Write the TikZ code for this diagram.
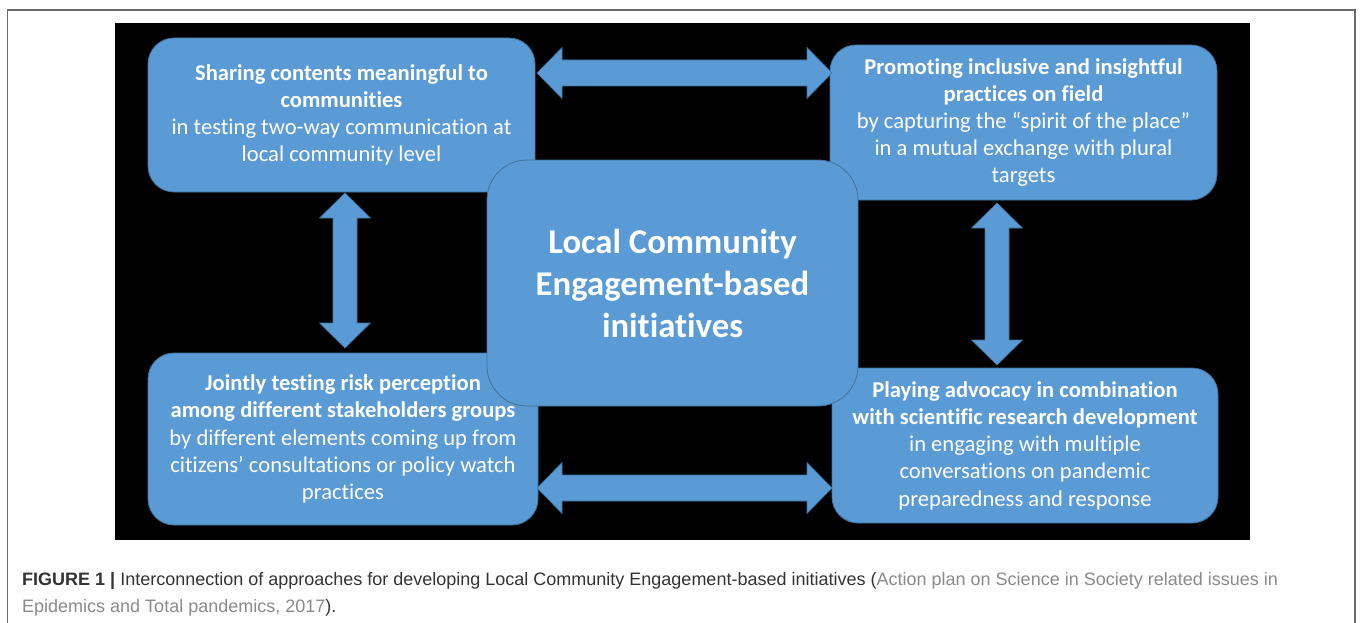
\documentclass[tikz,border=0pt]{standalone}
\usepackage{fontspec}
\setmainfont{Carlito}[Ligatures={NoCommon}]
\newfontfamily\capfont{Liberation Sans}
\usetikzlibrary{calc}
\definecolor{boxblue}{HTML}{5B9BD5}
\definecolor{boxline}{HTML}{41719C}
\definecolor{capdark}{HTML}{333333}
\definecolor{capgray}{HTML}{8A8A8A}
\definecolor{framegray}{HTML}{6A6A6A}
\newcommand\fatH[2]{\draw[fatarrow] let \p1=(#1), \p2=(#2) in
 (\x1,\y1) -- (\x1+25pt,\y1+25.5pt) -- (\x1+25pt,\y1+13pt) -- (\x2-25pt,\y1+13pt) -- (\x2-25pt,\y1+25.5pt) -- (\x2,\y1) -- (\x2-25pt,\y1-25.5pt) -- (\x2-25pt,\y1-13pt) -- (\x1+25pt,\y1-13pt) -- (\x1+25pt,\y1-25.5pt) -- cycle;}
\newcommand\fatV[2]{\draw[fatarrow] let \p1=(#1), \p2=(#2) in
 (\x1,\y1) -- (\x1+25.5pt,\y1-25pt) -- (\x1+12pt,\y1-25pt) -- (\x1+12pt,\y2+25pt) -- (\x1+25.5pt,\y2+25pt) -- (\x1,\y2) -- (\x1-25.5pt,\y2+25pt) -- (\x1-12pt,\y2+25pt) -- (\x1-12pt,\y1-25pt) -- (\x1-25.5pt,\y1-25pt) -- cycle;}
\begin{document}
\begin{tikzpicture}[x=1pt,y=-1pt,
  sidebox/.style={draw=boxline, line width=0.8pt, fill=boxblue, rounded corners=26pt,
    inner sep=0pt, align=center, text=white, font=\fontsize{22.6}{27.2}\selectfont},
  centerbox/.style={draw=boxline, line width=0.8pt, fill=boxblue, rounded corners=40pt,
    inner sep=0pt, align=center, text=white, font=\fontsize{34.7}{42}\selectfont\bfseries,
    minimum width=371pt, minimum height=246pt},
  fatarrow/.style={draw=boxline, line width=0.6pt, fill=boxblue},
  captext/.style={anchor=base west, inner sep=0pt, text=capdark, font=\capfont\fontsize{18}{20}\selectfont}]
\useasboundingbox (0,0) rectangle (1362,623);
% outer frame
\draw[framegray, line width=1.4pt] (7.5,623) -- (7.5,10) -- (1355,10) -- (1355,623);
% black panel
\fill[black] (115,23) rectangle (1250,540);
% side boxes
\node[sidebox, minimum width=387pt, minimum height=154pt] (tl) at (341.5,115)
  {\textbf{Sharing contents meaningful to}\\\textbf{communities}\\in testing two-way communication at\\local community level};
\node[sidebox, minimum width=387pt, minimum height=155pt] (tr) at (1023.5,122.5)
  {\textbf{Promoting inclusive and insightful}\\\textbf{practices on field}\\by capturing the “spirit of the place”\\in a mutual exchange with plural\\targets};
\node[sidebox, minimum width=390pt, minimum height=172pt] (bl) at (343,439)
  {\textbf{Jointly testing risk perception}\\\textbf{among different stakeholders groups}\\by different elements coming up from\\citizens’ consultations or policy watch\\practices};
\node[sidebox, minimum width=386pt, minimum height=155pt] (br) at (1025,445.5)
  {\textbf{Playing advocacy in combination}\\\textbf{with scientific research development}\\in engaging with multiple\\conversations on pandemic\\preparedness and response};
% arrows
\coordinate (ha1) at (537,73);
\coordinate (ha2) at (832,73);
\coordinate (hb1) at (537,488);
\coordinate (hb2) at (832,488);
\coordinate (va1) at (345,193);
\coordinate (va2) at (345,348);
\coordinate (vb1) at (997,203);
\coordinate (vb2) at (997,365);
\fatH{ha1}{ha2}
\fatH{hb1}{hb2}
\fatV{va1}{va2}
\fatV{vb1}{vb2}
% center box
\node[centerbox] (c) at (672.5,283) {Local Community\\Engagement-based\\initiatives};
% caption
\node[captext] (cap1) at (22,585) {\textbf{FIGURE 1 |} Interconnection of approaches for developing Local Community Engagement-based initiatives (\textcolor{capgray}{Action plan on Science in Society related issues in}};
\node[captext] (cap2) at (22,612) {\textcolor{capgray}{Epidemics and Total pandemics, 2017}).};
\end{tikzpicture}
\end{document}
